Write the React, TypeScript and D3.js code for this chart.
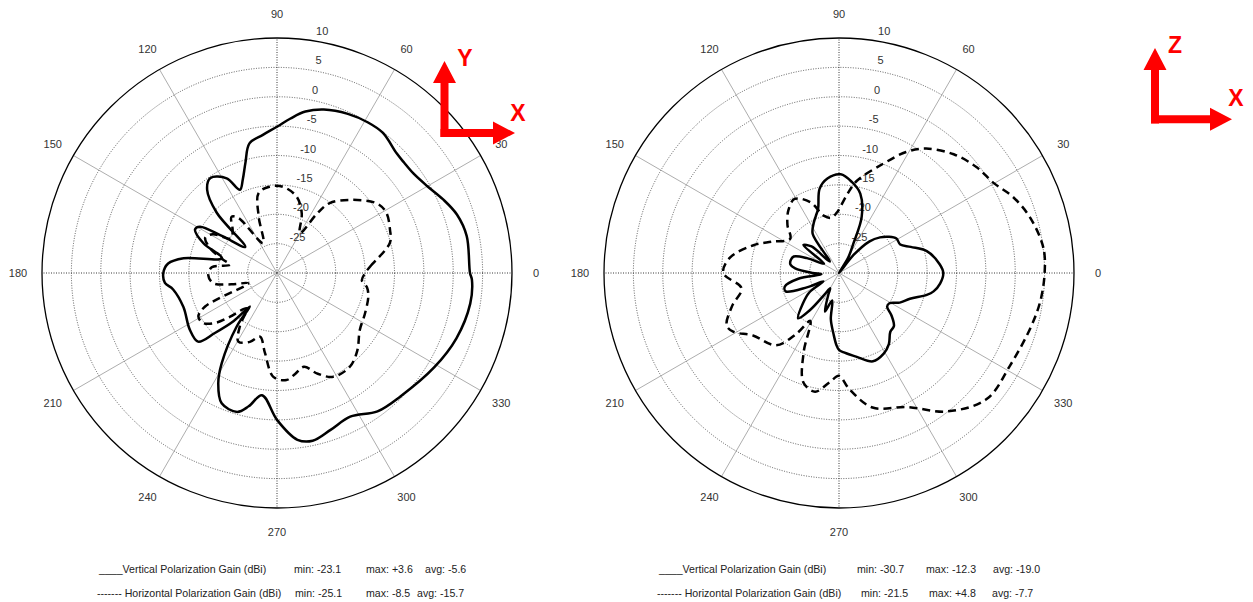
import React from "react";
import * as d3 from "d3";

// ---------- data ----------
const RING_VALUES = [-25, -20, -15, -10, -5, 0, 5, 10];
const ANGLE_TICKS = [0, 30, 60, 90, 120, 150, 180, 210, 240, 270, 300, 330];

// Left chart (XY plane)
const LEFT_V_ANGLES = [0, 11, 18, 24, 30, 36, 41, 45, 53, 59, 66, 74, 80, 85, 90, 96, 102, 106, 110, 114, 118, 125, 130, 135, 140.6, 146, 149, 152, 158, 165, 171, 175, 180, 185, 189, 200, 213, 221, 224, 228, 231, 233, 238.5, 242, 247, 254, 258, 263, 270, 277, 282, 289, 297, 306, 315, 329, 340, 351, 358];
const LEFT_V_GAIN = [2.85, 2.9, 2.2, 0.9, -0.45, -1.25, -1.35, -1.2, -0.1, -0.06, -0.35, -1.05, -2.1, -3.6, -5.1, -6.4, -7.45, -10.5, -13, -14.5, -11.75, -10.25, -11.5, -15.5, -23, -18.8, -14.7, -14.2, -16.5, -20.3, -13.9, -11.4, -10.65, -10.85, -12.1, -13.05, -12.3, -12.2, -15.3, -19, -22.65, -18.6, -12, -8.7, -5.9, -5.4, -6.8, -9.05, -5, -1.4, -0.8, -1.8, -2.55, -0.9, -0.3, 1.2, 2.5, 3.3, 3.2];

const LEFT_H_ANGLES = [0, 4, 15, 21, 29, 35, 45, 53, 56, 60, 67.5, 75.5, 86, 95, 103, 108, 115, 125, 129, 136, 143, 149, 154, 160, 166, 170, 175, 182, 189, 194, 199.7, 205, 209, 214, 219, 223, 229.4, 235, 240.6, 248.5, 255, 261.5, 268, 275, 280, 286, 292, 298.5, 308, 316, 325.5, 335, 345.5, 351, 355];
const LEFT_H_GAIN = [-15, -14.1, -10.1, -9.4, -8.75, -9.3, -12.4, -15.1, -17.8, -22.2, -19, -16.6, -15.3, -15.25, -16.05, -19.9, -24.4, -18.6, -17.7, -19.5, -20.2, -17.2, -16.4, -18, -20.5, -21.9, -18.85, -18.3, -19, -22, -24.8, -16.5, -14.7, -14.8, -16.5, -19.1, -22.1, -19, -16.6, -17.4, -18.8, -16.2, -12.3, -11.7, -12.5, -13.4, -11.5, -9.9, -9.8, -11, -12.9, -13.5, -13.95, -14.5, -15.5];

// Right chart (XZ plane)
const RIGHT_V_ANGLES = [0, 5, 14, 20, 25, 31, 36, 41, 46, 51, 55, 59, 64, 68, 75, 82, 89, 97, 103, 108, 112, 117, 124, 129, 136, 142, 148, 155, 160, 165, 170, 174, 180, 184, 188, 194, 199, 204, 208, 213, 220, 228, 232, 236, 240, 244, 250, 256, 260, 265, 268, 270, 274, 282, 291, 299, 305, 311, 316, 321, 325, 329, 334, 340, 346, 349, 354];
const RIGHT_V_GAIN = [-12.25, -12.8, -14.6, -17, -18.5, -18.6, -19.5, -20.75, -22.5, -26, -30.5, -27, -24.4, -19.7, -16, -14.35, -13.2, -13.8, -15.3, -18.5, -19.5, -20.5, -22, -27.5, -23.5, -22.3, -27, -24, -21.8, -21.5, -21.6, -22.5, -25.5, -27, -23, -20.5, -20.4, -24, -27, -24, -22, -19.6, -22, -25.5, -27, -25.8, -23, -25.2, -22, -19.5, -17.7, -16.9, -16.4, -15.4, -13.9, -14.3, -15.2, -16.7, -17, -18.5, -20, -20, -18.5, -17.15, -14.6, -13.6, -12.7];

const RIGHT_H_ANGLES = [0, 7, 16, 23.5, 30, 37.5, 46, 55, 61, 68, 79, 84, 92, 98, 105, 112, 121, 129, 137, 145, 155, 162, 172, 180, 189, 197, 205, 209, 216, 229, 235, 239, 246, 252, 258.6, 265, 270, 275, 284, 297, 308, 319.5, 331.5, 344, 352];
const RIGHT_H_GAIN = [5, 5.05, 3.9, 2.35, 0.5, -0.45, -1.9, -4.15, -6.45, -9.95, -14, -16.5, -19.7, -20.5, -19.9, -17, -15.3, -16.3, -18, -19.85, -17.4, -14.7, -11.25, -10.3, -13.2, -11, -8.9, -9.4, -11.9, -13.7, -17.4, -20.5, -15.2, -10.4, -9.4, -11.3, -12.5, -10.2, -6.4, -4.4, -0.1, 3.05, 3.1, 3.9, 4.6];

const LEFT_LEGEND = {
  v: ["____Vertical Polarization Gain (dBi)", "min: -23.1", "max: +3.6", "avg: -5.6"],
  h: ["------- Horizontal Polarization Gain (dBi)", "min: -25.1", "max: -8.5", "avg: -15.7"],
};
const RIGHT_LEGEND = {
  v: ["____Vertical Polarization Gain (dBi)", "min: -30.7", "max: -12.3", "avg: -19.0"],
  h: ["------- Horizontal Polarization Gain (dBi)", "min: -21.5", "max: +4.8", "avg: -7.7"],
};

// ---------- layout ----------
const W = 1253;
const H = 602;
const R = 235;
const FONT = "'Liberation Sans', Arial, Helvetica, sans-serif";

const rScale = d3.scaleLinear().domain([-30, 10]).range([0, R]).clamp(true);

function zip(angles: number[], gains: number[]) {
  return angles.map((a, i) => [a, gains[i]] as [number, number]);
}

const radialLine = d3
  .lineRadial<[number, number]>()
  .angle((d) => ((90 - d[0]) * Math.PI) / 180)
  .radius((d) => rScale(d[1]))
  .curve(d3.curveCatmullRomClosed.alpha(0.5));

function Polar({ cx, cy, v, h }: { cx: number; cy: number; v: [number, number][]; h: [number, number][] }) {
  return (
    <g transform={`translate(${cx},${cy})`}>
      {RING_VALUES.slice(0, -1).map((val) => (
        <circle key={val} r={rScale(val)} fill="none" stroke="#333" strokeWidth={0.8} strokeDasharray="1,1.5" />
      ))}
      {ANGLE_TICKS.map((a) => {
        const t = (a * Math.PI) / 180;
        const major = a % 90 === 0;
        return (
          <line
            key={a}
            x1={0}
            y1={0}
            x2={R * Math.cos(t)}
            y2={-R * Math.sin(t)}
            stroke={major ? "#222" : "#8a8a8a"}
            strokeWidth={major ? 0.9 : 0.7}
            strokeDasharray={major ? "1,1.5" : undefined}
          />
        );
      })}
      <circle r={R} fill="none" stroke="#000" strokeWidth={1.3} />
      {ANGLE_TICKS.map((a) => {
        const t = (a * Math.PI) / 180;
        return (
          <text
            key={a}
            x={259 * Math.cos(t)}
            y={-259 * Math.sin(t)}
            textAnchor="middle"
            dominantBaseline="central"
            fontSize={11}
            fill="#333"
            fontFamily={FONT}
          >
            {a}
          </text>
        );
      })}
      {RING_VALUES.map((val) => {
        const r = rScale(val);
        return (
          <text
            key={val}
            x={17 + 0.12 * r}
            y={-r - 7}
            textAnchor="middle"
            dominantBaseline="central"
            fontSize={11}
            fill="#333"
            fontFamily={FONT}
          >
            {val}
          </text>
        );
      })}
      <path d={radialLine(h) || ""} fill="none" stroke="#000" strokeWidth={2.5} strokeDasharray="8,5" strokeLinejoin="round" />
      <path d={radialLine(v) || ""} fill="none" stroke="#000" strokeWidth={2.5} strokeLinejoin="round" />
    </g>
  );
}

function Legend({ x0, xs, data }: { x0: number; xs: number[][]; data: { v: string[]; h: string[] } }) {
  const rows = [data.v, data.h];
  const ys = [573, 597];
  return (
    <g fontFamily={FONT} fontSize={10.6} fill="#222">
      {rows.map((row, ri) =>
        row.map((t, i) => (
          <text key={`${ri}-${i}`} x={i === 0 ? x0 + (ri === 0 ? 2 : 0) : xs[ri][i - 1]} y={ys[ri]}>
            {t}
          </text>
        ))
      )}
    </g>
  );
}

function Axes({ up, right, label1, label2, l1, l2 }: any) {
  const [ux, uTop, uBot] = up;
  const [rx, rTip, ry] = right;
  const sh = 4;
  const hw = 11.5;
  const hl = 22;
  return (
    <g fill="#ff0000">
      <polygon points={`${ux - sh},${uBot} ${ux - sh},${uTop + hl} ${ux - hw},${uTop + hl} ${ux},${uTop} ${ux + hw},${uTop + hl} ${ux + sh},${uTop + hl} ${ux + sh},${uBot}`} />
      <polygon points={`${rx},${ry - sh} ${rTip - hl},${ry - sh} ${rTip - hl},${ry - hw} ${rTip},${ry} ${rTip - hl},${ry + hw} ${rTip - hl},${ry + sh} ${rx},${ry + sh}`} />
      <text x={l1[0]} y={l1[1]} textAnchor="middle" dominantBaseline="central" fontSize={23} fontWeight="bold" fontFamily={FONT}>
        {label1}
      </text>
      <text x={l2[0]} y={l2[1]} textAnchor="middle" dominantBaseline="central" fontSize={23} fontWeight="bold" fontFamily={FONT}>
        {label2}
      </text>
    </g>
  );
}

export default function App() {
  return (
    <svg width={W} height={H} style={{ position: "absolute", left: 0, top: 0, background: "#fff" }}>
      <rect width={W} height={H} fill="#fff" />
      <Polar cx={277} cy={273} v={zip(LEFT_V_ANGLES, LEFT_V_GAIN)} h={zip(LEFT_H_ANGLES, LEFT_H_GAIN)} />
      <Polar cx={839} cy={273} v={zip(RIGHT_V_ANGLES, RIGHT_V_GAIN)} h={zip(RIGHT_H_ANGLES, RIGHT_H_GAIN)} />
      <Axes up={[444.5, 61, 137]} right={[440.5, 515, 133]} label1="Y" label2="X" l1={[465, 58]} l2={[518, 113]} />
      <Axes up={[1155, 48, 123.5]} right={[1151, 1232, 119.2]} label1="Z" label2="X" l1={[1175, 45]} l2={[1236, 98]} />
      <Legend x0={97} xs={[[294, 366, 425], [295, 366, 417]]} data={LEFT_LEGEND} />
      <Legend x0={657} xs={[[857, 926, 993], [861, 929, 992]]} data={RIGHT_LEGEND} />
    </svg>
  );
}
